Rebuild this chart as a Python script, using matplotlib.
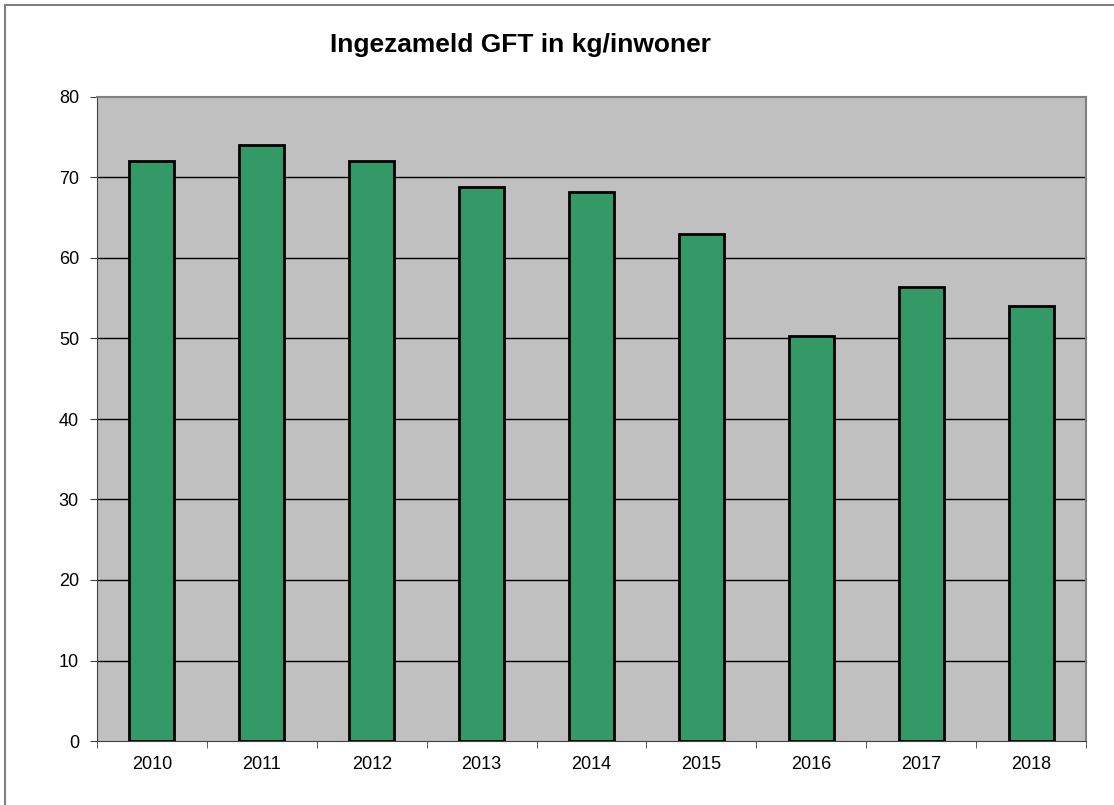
# Ingezameld GFT per inwoner - bar chart
import matplotlib
matplotlib.use('Agg')
import matplotlib.pyplot as plt
from matplotlib.patches import Rectangle

# Data
years = ['2010', '2011', '2012', '2013', '2014', '2015', '2016', '2017', '2018']
gft_kg = [72.0, 74.0, 72.0, 68.8, 68.2, 63.0, 50.3, 56.4, 54.0]
y_ticks = [0, 10, 20, 30, 40, 50, 60, 70, 80]
title_text = 'Ingezameld GFT in kg/inwoner'

# Style
plt.rcParams['font.family'] = ['Liberation Sans', 'DejaVu Sans']
bar_color = '#339966'
plot_bg = '#c0c0c0'
frame_gray = '#808080'
label_size = 13

fig = plt.figure(figsize=(11.14, 8.05), dpi=100)
fig.patch.set_facecolor('white')
# chart border (only top/left visible in the original)
fig.patches.append(Rectangle((5 / 1114, -0.1), 1.2, 1 - 5 / 805 + 0.1, transform=fig.transFigure,
                             fill=False, edgecolor=frame_gray, linewidth=1.5))

ax = fig.add_axes([97 / 1114, 64 / 805, 989 / 1114, 644 / 805])
ax.set_facecolor(plot_bg)
x = list(range(len(years)))
ax.bar(x, gft_kg, width=0.41, color=bar_color, edgecolor='black', linewidth=2, zorder=3)

ax.set_xlim(-0.5, len(years) - 0.5)
ax.set_ylim(0, 80)
ax.set_yticks(y_ticks)
ax.set_yticklabels([str(v) for v in y_ticks], fontsize=label_size)
for v in y_ticks[1:-1]:
    ax.axhline(v, color='black', linewidth=1, zorder=1)

ax.set_xticks(x)
ax.set_xticklabels(years, fontsize=label_size)
ax.tick_params(axis='x', length=0, pad=11)
ax.set_xticks([i - 0.5 for i in range(len(years) + 1)], minor=True)
ax.tick_params(axis='x', which='minor', length=5, direction='out', color='#404040')
ax.tick_params(axis='y', length=5, direction='out', color='#404040', pad=8)

for side in ['top', 'right']:
    ax.spines[side].set_color(frame_gray)
    ax.spines[side].set_linewidth(1.5)
ax.spines['left'].set_color('#404040')
ax.spines['bottom'].set_color('#404040')

fig.text(520 / 1114, 1 - 45 / 805, title_text, fontsize=19, fontweight='bold',
         ha='center', va='center')

plt.savefig('out.png', dpi=100)
